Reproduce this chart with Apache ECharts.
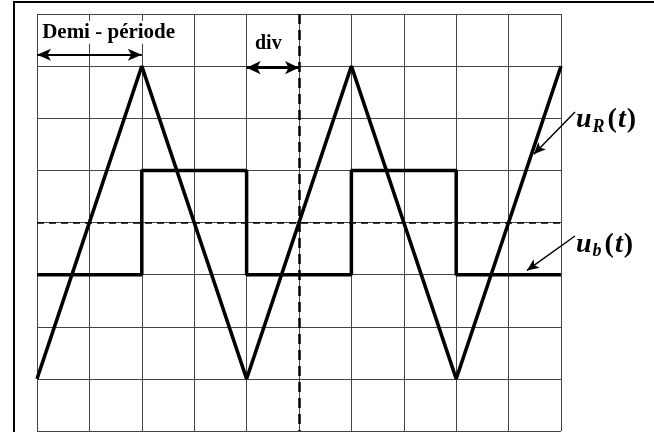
<!DOCTYPE html>
<html>
<head>
<meta charset="utf-8">
<script src="https://cdn.jsdelivr.net/npm/echarts@6/dist/echarts.min.js"></script>
<style>
  html, body { margin: 0; padding: 0; background: #fff; }
  #chart { width: 654px; height: 432px; }
</style>
</head>
<body>
<div id="chart"></div>
<script>
// time in divisions, tension in divisions
const triTime = [0, 2, 4, 6, 8, 10]
const triValue = [-3, 3, -3, 3, -3, 3]
const sqTime = [0, 2, 2, 4, 4, 6, 6, 8, 8, 10]
const sqValue = [-1, -1, 1, 1, -1, -1, 1, 1, -1, -1]
const xDivs = [0, 10]
const yDivs = [-4, 4]

const serif = 'Liberation Serif, Times New Roman, serif'
const chart = echarts.init(document.getElementById('chart'), null, { renderer: 'canvas' })

const pair = (xs, ys) => xs.map((x, i) => [x, ys[i]])

const richLabel = (drop) => ({
  u: { fontSize: 28, fontWeight: 'bold', fontStyle: 'italic', fontFamily: serif, color: '#000' },
  s: { fontSize: 18, fontWeight: 'bold', fontStyle: 'italic', fontFamily: serif, color: '#000', padding: [drop, 2, 0, 1] },
  p: { fontSize: 28, fontWeight: 'bold', fontFamily: serif, color: '#000', padding: [0, 1] }
})

chart.setOption({
  animation: false,
  backgroundColor: '#fff',
  grid: { left: 37, top: 14, width: 524, height: 417 },
  xAxis: {
    type: 'value', min: xDivs[0], max: xDivs[1], interval: 1,
    axisLine: { show: false }, axisTick: { show: false }, axisLabel: { show: false },
    splitLine: { show: true, lineStyle: { color: '#444', width: 1 } }
  },
  yAxis: {
    type: 'value', min: yDivs[0], max: yDivs[1], interval: 1,
    axisLine: { show: false }, axisTick: { show: false }, axisLabel: { show: false },
    splitLine: { show: true, lineStyle: { color: '#444', width: 1 } }
  },
  graphic: [{
    type: 'rect', silent: true, z: -1,
    shape: { x: 14, y: 2, width: 700, height: 500 },
    style: { fill: 'none', stroke: '#000', lineWidth: 2 }
  }],
  series: [
    {
      name: 'uR', type: 'line', clip: false,
      data: pair(triTime, triValue), symbol: 'none',
      lineStyle: { color: '#000', width: 3.5 },
      markLine: {
        silent: true, symbol: 'none', label: { show: false },
        data: [
          [{ coord: [5, 4], lineStyle: { type: [10, 6], width: 2.5, color: '#000' } }, { coord: [5, -4] }],
          [{ coord: [0, 0], lineStyle: { type: [7, 5], width: 1.5, color: '#000' } }, { coord: [10, 0] }],
          [{ coord: [0, 3.22], symbol: 'arrow', symbolSize: [9, 14], lineStyle: { type: 'solid', width: 2, color: '#000' } },
           { coord: [2, 3.22], symbol: 'arrow', symbolSize: [9, 14] }],
          [{ coord: [4, 2.97], symbol: 'arrow', symbolSize: [10, 14], lineStyle: { type: 'solid', width: 3, color: '#000' } },
           { coord: [5, 2.97], symbol: 'arrow', symbolSize: [10, 14] }],
          [{ x: 575, y: 112, lineStyle: { type: 'solid', width: 1.5, color: '#000' } },
           { coord: [9.48, 1.31], symbol: 'arrow', symbolSize: [8, 12] }],
          [{ x: 575, y: 236, lineStyle: { type: 'solid', width: 1.5, color: '#000' } },
           { coord: [9.35, -0.92], symbol: 'arrow', symbolSize: [8, 12] }]
        ]
      },
      markPoint: {
        silent: true, symbol: 'circle', symbolSize: 0,
        label: { show: true, position: 'right', distance: 0, color: '#000', fontFamily: serif },
        data: [
          {
            coord: [0.06, 3.65],
            label: {
              formatter: 'Demi - période', fontSize: 21, fontWeight: 'bold',
              backgroundColor: '#fff', padding: [1, 2]
            }
          },
          {
            coord: [4.16, 3.42],
            label: { formatter: 'div', fontSize: 20, fontWeight: 'bold' }
          },
          {
            x: 576, y: 120,
            label: { formatter: '{u|u}{s|R}{p|(}{u|t}{p|)}', rich: richLabel(14) }
          },
          {
            x: 576, y: 245,
            label: { formatter: '{u|u}{s|b}{p|(}{u|t}{p|)}', rich: richLabel(12) }
          }
        ]
      }
    },
    {
      name: 'ub', type: 'line',
      data: pair(sqTime, sqValue), symbol: 'none',
      lineStyle: { color: '#000', width: 3.5 }
    }
  ]
})
</script>
</body>
</html>
